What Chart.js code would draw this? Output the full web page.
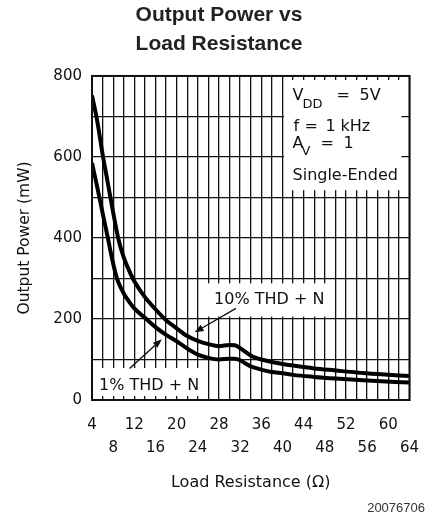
<!DOCTYPE html>
<html lang="en">
<head>
<meta charset="UTF-8">
<title>Output Power vs Load Resistance</title>
<script src="https://cdn.jsdelivr.net/npm/chart.js"></script>
<style>
  html, body { margin: 0; padding: 0; background: #fff; }
</style>
</head>
<body>
<canvas id="chart" width="432" height="518"></canvas>
<script>
// 10% THD+N curve (ohms, mW)
const load10 = [4, 5, 6, 7, 8, 9, 10, 11, 12, 14, 16, 18, 20, 22, 24, 26, 28, 30, 31, 32, 33, 34, 35, 36, 38, 40, 42, 46, 50, 54, 58, 64];
const power10 = [752, 688, 607, 535, 463, 397, 352, 320, 293, 254, 224, 197, 177, 158, 146, 138, 133, 136, 135, 128, 119, 110, 104, 100, 94, 89, 85, 78, 73, 68, 64, 59];

// 1% THD+N curve
const load1 = [4, 5, 6, 7, 7.5, 8, 8.5, 9, 10, 11, 12, 14, 16, 18, 20, 22, 24, 26, 28, 30, 31, 32, 33, 34, 36, 38, 40, 42, 46, 50, 56, 64];
const power1 = [585, 525, 462, 400, 367, 337, 310, 290, 263, 243, 226, 203, 180, 161, 145, 127, 112, 104, 100, 102, 102, 98, 90, 83, 75, 69, 66, 62, 57, 53, 48, 43];

// tick labels
const xTopRow = [4, 12, 20, 28, 36, 44, 52, 60];
const xBottomRow = [8, 16, 24, 32, 40, 48, 56, 64];
const yLabels = [0, 200, 400, 600, 800];

const FONT = '"DejaVu Sans", sans-serif';

function toPoints(xs, ys) {
    return xs.map((v, i) => ({ x: v, y: ys[i] }));
}

function drawArrow(ctx, x1, y1, x2, y2) {
    const ang = Math.atan2(y2 - y1, x2 - x1);
    const len = 9, half = 3.5;
    ctx.beginPath();
    ctx.moveTo(x1, y1);
    ctx.lineTo(x2 - Math.cos(ang) * len * 0.8, y2 - Math.sin(ang) * len * 0.8);
    ctx.stroke();
    ctx.beginPath();
    ctx.moveTo(x2, y2);
    ctx.lineTo(x2 - Math.cos(ang) * len + Math.sin(ang) * half, y2 - Math.sin(ang) * len - Math.cos(ang) * half);
    ctx.lineTo(x2 - Math.cos(ang) * len - Math.sin(ang) * half, y2 - Math.sin(ang) * len + Math.cos(ang) * half);
    ctx.closePath();
    ctx.fill();
}

const annotations = {
    id: 'annotations',
    beforeDatasetsDraw(chart) {
        const { ctx, chartArea: a, scales: { x, y } } = chart;
        ctx.save();
        ctx.fillStyle = '#fff';
        // conditions box, top right
        const cx = x.getPixelForValue(40.3);
        ctx.fillRect(cx, a.top + 4, a.right - 8 - cx, y.getPixelForValue(518) - a.top - 4);
        // 10% label box
        ctx.fillRect(x.getPixelForValue(25), y.getPixelForValue(288),
            x.getPixelForValue(49) - x.getPixelForValue(25), y.getPixelForValue(206) - y.getPixelForValue(288));
        // 1% label box
        ctx.fillRect(a.left + 1, y.getPixelForValue(79), x.getPixelForValue(25) - a.left - 1, a.bottom - 4 - y.getPixelForValue(79));

        ctx.fillStyle = '#111';
        ctx.textBaseline = 'alphabetic';
        ctx.textAlign = 'left';
        const big = '16px ' + FONT, small = '13px ' + FONT;
        const bx = x.getPixelForValue(41.9);

        let yb = y.getPixelForValue(740);
        ctx.font = big; ctx.fillText('V', bx, yb);
        ctx.font = small; ctx.fillText('DD', bx + 10, yb + 8);
        ctx.font = big; ctx.fillText('=', bx + 44, yb); ctx.fillText('5V', bx + 67, yb);

        yb = y.getPixelForValue(664);
        ctx.fillText('f', bx + 1, yb); ctx.fillText('=', bx + 12, yb);
        ctx.fillText('1', bx + 33, yb); ctx.fillText('kHz', bx + 48, yb);

        yb = y.getPixelForValue(622);
        ctx.fillText('A', bx, yb);
        ctx.font = small; ctx.fillText('V', bx + 9, yb + 7);
        ctx.font = big; ctx.fillText('=', bx + 28, yb); ctx.fillText('1', bx + 51, yb);

        yb = y.getPixelForValue(544);
        ctx.fillText('Single-Ended', bx, yb);

        ctx.textAlign = 'center';
        ctx.fillText('10% THD + N', x.getPixelForValue(37.5), y.getPixelForValue(238));
        ctx.fillText('1% THD + N', x.getPixelForValue(14.8), y.getPixelForValue(24));
        ctx.restore();
    },
    afterDatasetsDraw(chart) {
        const { ctx, chartArea: a, scales: { x, y } } = chart;
        ctx.save();
        ctx.strokeStyle = '#111';
        ctx.fillStyle = '#111';
        ctx.lineWidth = 1.4;
        drawArrow(ctx, x.getPixelForValue(31.2), y.getPixelForValue(226), x.getPixelForValue(23.4), y.getPixelForValue(167));
        drawArrow(ctx, x.getPixelForValue(11.1), y.getPixelForValue(78), x.getPixelForValue(17.2), y.getPixelForValue(150));
        // frame
        ctx.lineWidth = 2;
        ctx.strokeRect(a.left, a.top, a.right - a.left, a.bottom - a.top);
        ctx.restore();
    },
    afterDraw(chart) {
        const ctx = chart.ctx;
        ctx.save();
        ctx.font = '13px "Liberation Sans", Arial, sans-serif';
        ctx.fillStyle = '#333';
        ctx.textAlign = 'right';
        ctx.textBaseline = 'middle';
        ctx.fillText('20076706', 425, 508);
        ctx.restore();
    }
};

new Chart(document.getElementById('chart'), {
    type: 'line',
    data: {
        datasets: [
            {
                label: '10% THD + N',
                data: toPoints(load10, power10),
                borderColor: '#000',
                borderWidth: 4,
                pointRadius: 0,
                cubicInterpolationMode: 'monotone',
                fill: false
            },
            {
                label: '1% THD + N',
                data: toPoints(load1, power1),
                borderColor: '#000',
                borderWidth: 4,
                pointRadius: 0,
                cubicInterpolationMode: 'monotone',
                fill: false
            }
        ]
    },
    options: {
        responsive: false,
        animation: false,
        devicePixelRatio: 1,
        layout: { padding: { left: 23, right: 17, top: 0, bottom: 18 } },
        plugins: {
            legend: { display: false },
            tooltip: { enabled: false },
            title: {
                display: true,
                text: ['Output Power vs', 'Load Resistance'],
                color: '#222',
                font: { family: '"Liberation Sans", Arial, sans-serif', size: 21, weight: 'bold', lineHeight: 1.38 },
                padding: { top: 1, bottom: 17 }
            }
        },
        scales: {
            x: {
                type: 'linear',
                min: 4,
                max: 64,
                afterFit(scale) { scale.height = 100; },
                grid: { color: '#111', lineWidth: 1.3, drawTicks: false },
                border: { display: true, color: '#111', width: 2 },
                ticks: {
                    stepSize: 2,
                    autoSkip: false,
                    maxRotation: 0,
                    padding: 13,
                    color: '#111',
                    font: { family: FONT, size: 15, lineHeight: 1.58 },
                    callback(v) {
                        if (xTopRow.includes(v)) return String(v);
                        if (xBottomRow.includes(v)) return ['', String(v)];
                        return '';
                    }
                },
                title: {
                    display: true,
                    text: 'Load Resistance (\u03A9)',
                    color: '#111',
                    font: { family: FONT, size: 16 },
                    padding: { top: 0, bottom: 8 }
                }
            },
            y: {
                min: 0,
                max: 800,
                afterFit(scale) { scale.width = 69; },
                grid: { color: '#111', lineWidth: 1.3, drawTicks: false },
                border: { display: true, color: '#111', width: 2 },
                ticks: {
                    stepSize: 100,
                    autoSkip: false,
                    padding: 10,
                    color: '#111',
                    font: { family: FONT, size: 15 },
                    callback(v) {
                        return yLabels.includes(v) ? String(v) : '';
                    }
                },
                title: {
                    display: true,
                    text: 'Output Power (mW)',
                    color: '#111',
                    font: { family: FONT, size: 15.5 },
                    padding: { top: -7, bottom: 0 }
                }
            }
        }
    },
    plugins: [annotations]
});
</script>
</body>
</html>
